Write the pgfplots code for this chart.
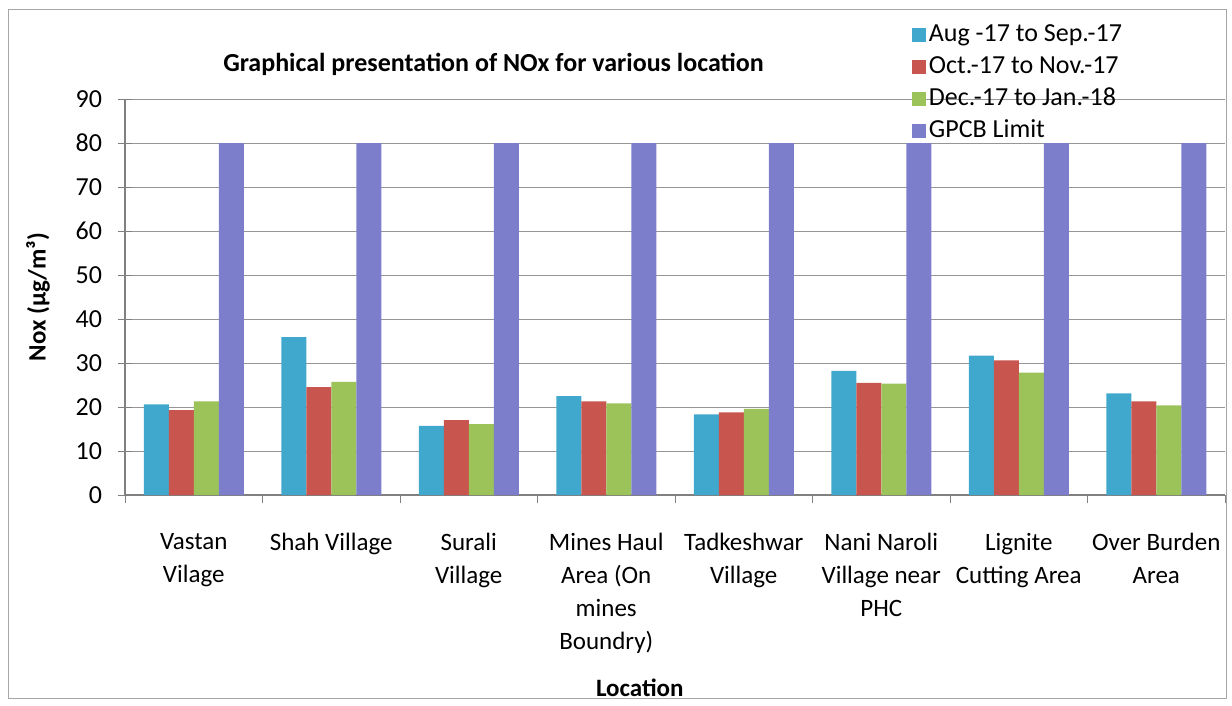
\documentclass[border=0pt]{standalone}
\usepackage{pgfplots}
\pgfplotsset{compat=1.18}
\usepackage{fontspec}
\setmainfont{Carlito}
\definecolor{cA}{RGB}{64,168,204}
\definecolor{cB}{RGB}{200,85,78}
\definecolor{cC}{RGB}{155,195,90}
\definecolor{cD}{RGB}{124,126,204}
\definecolor{gridc}{RGB}{150,150,150}
\begin{document}
\begin{tikzpicture}
\path[use as bounding box] (0pt,0pt) rectangle (616pt,-353pt);
\draw[gray!70, line width=0.5pt] (4pt,-5pt) rectangle (613pt,-349pt);
\begin{axis}[
  at={(62.5pt,-247.5pt)}, anchor=south west,
  scale only axis, width=550pt, height=198pt,
  ybar=0pt, bar width=12.5pt,
  ymin=0, ymax=90, ytick={0,10,...,90},
  xmin=-0.5, xmax=7.5,
  xtick={0,...,7},
  xticklabels={{Vastan\\Vilage},{Shah Village},{Surali\\Village},{Mines Haul\\Area (On\\mines\\Boundry)},{Tadkeshwar\\Village},{Nani Naroli\\Village near\\PHC},{Lignite\\Cutting Area},{Over Burden\\Area}},
  x tick label style={align=center, font=\fontsize{12.5}{16.5}\selectfont, yshift=-8.5pt},
  major x tick style={draw=none},
  extra x ticks={-0.5,0.5,1.5,2.5,3.5,4.5,5.5,6.5,7.5},
  extra x tick labels={},
  extra x tick style={major tick length=4pt, tick align=outside, major x tick style={draw=gray, line width=0.5pt}, grid=none},
  ymajorgrids, grid style={gridc, line width=0.5pt},
  axis x line*=bottom, axis y line*=left,
  axis line style={gray, line width=0.6pt, -},
  ytick align=center, major y tick style={gray, line width=0.5pt},
  major tick length=7pt,
  /pgf/number format/assume math mode=true,
  y tick label style={font=\fontsize{13}{15}\selectfont, anchor=east, xshift=-4.5pt},
  ylabel={\textbf{Nox (μg/m³)}},
  ylabel style={at={(axis description cs:-0.079,0.5)}, anchor=center, font=\fontsize{12.5}{15}\selectfont},
  xlabel={\textbf{Location}},
  xlabel style={at={(axis description cs:0.468,-0.487)}, anchor=center, font=\fontsize{12.5}{15}\selectfont},
  title={\textbf{Graphical presentation of NOx for various location}},
  title style={at={(axis description cs:0.335,1.058)}, anchor=center, font=\fontsize{13}{15}\selectfont},
  legend style={at={(axis description cs:0.715,1.2)}, anchor=north west, draw=none, fill=none,
    font=\fontsize{13}{15}\selectfont, inner sep=0pt, row sep=1pt,
    nodes={inner sep=1.5pt, text height=9pt, text depth=3pt}},
  legend cell align=left,
  legend image code/.code={\fill[#1] (0pt,-3.5pt) rectangle (7pt,3.5pt);},
]
\addplot[fill=cA, draw=none] coordinates {(0,20.6) (1,35.9) (2,15.7) (3,22.5) (4,18.3) (5,28.2) (6,31.7) (7,23.1)};
\addplot[fill=cB, draw=none] coordinates {(0,19.3) (1,24.5) (2,17.0) (3,21.3) (4,18.8) (5,25.5) (6,30.6) (7,21.3)};
\addplot[fill=cC, draw=none] coordinates {(0,21.3) (1,25.7) (2,16.1) (3,20.8) (4,19.6) (5,25.3) (6,27.8) (7,20.4)};
\addplot[fill=cD, draw=none] coordinates {(0,80) (1,80) (2,80) (3,80) (4,80) (5,80) (6,80) (7,80)};
\legend{Aug -17 to Sep.-17, Oct.-17 to Nov.-17, Dec.-17 to Jan.-18, GPCB Limit}
\end{axis}
\end{tikzpicture}
\end{document}
